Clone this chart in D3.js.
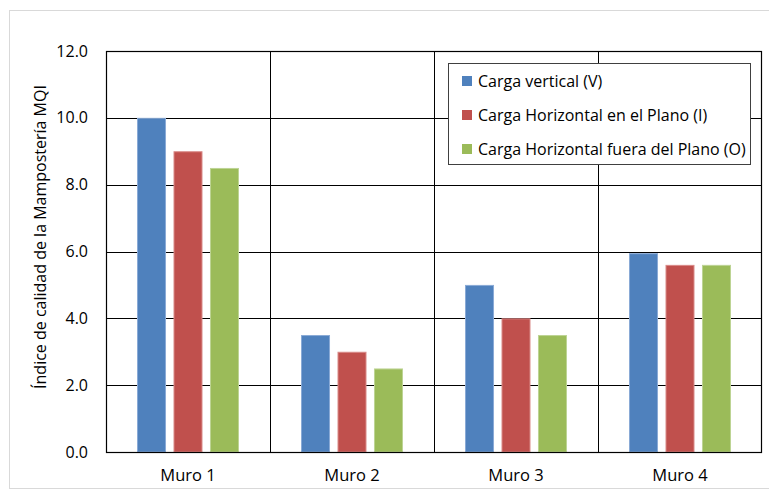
<!DOCTYPE html>
<html><head><meta charset="utf-8">
<script src="https://cdn.jsdelivr.net/npm/d3@7"></script>
<style>body{margin:0;background:#fff}svg{display:block}text{font-family:"Open Sans","Liberation Sans",sans-serif;fill:#000}</style>
</head><body><svg id="c" width="769" height="491"></svg>
<script>
const categories = ["Muro 1","Muro 2","Muro 3","Muro 4"];
const seriesNames = ["Carga vertical (V)","Carga Horizontal en el Plano (I)","Carga Horizontal fuera del Plano (O)"];
const cargaVertical = [10.0, 3.5, 5.0, 5.95];
const cargaHorizontalPlano = [9.0, 3.0, 4.0, 5.6];
const cargaHorizontalFuera = [8.5, 2.5, 3.5, 5.6];
const yTicks = [0,2,4,6,8,10,12];
const colors = ["#4F81BD","#C0504D","#9BBB59"];
const edgeColors = ["#8AAAD6","#D98A88","#BDD494"];
const series = [cargaVertical, cargaHorizontalPlano, cargaHorizontalFuera];

const svg = d3.select("#c");
svg.append("rect").attr("x",9.5).attr("y",10.5).attr("width",800).attr("height",478)
  .attr("fill","#fff").attr("stroke","#d9d9d9");
const L=106, R=762, T=51, B=452;
const x = d3.scaleBand().domain(categories).range([L,R]);
const xs = d3.scaleBand().domain(d3.range(3)).range([0,x.bandwidth()]).paddingInner(0.205).paddingOuter(0.85);
const y = d3.scaleLinear().domain([0,12]).range([B,T]);
const g = svg.append("g");
g.selectAll(".hg").data(yTicks).join("line").attr("x1",L).attr("x2",R)
  .attr("y1",d=>Math.round(y(d))+0.5).attr("y2",d=>Math.round(y(d))+0.5).attr("stroke","#000").attr("stroke-width",1);
g.selectAll(".vg").data(categories.slice(1)).join("line")
  .attr("x1",d=>Math.round(x(d))+0.5).attr("x2",d=>Math.round(x(d))+0.5).attr("y1",T).attr("y2",B).attr("stroke","#000");
series.forEach((s,i)=>{
  g.selectAll(".b"+i).data(s).join("rect")
    .attr("x",(d,j)=>x(categories[j])+xs(i)+0.5).attr("width",xs.bandwidth()-1)
    .attr("y",d=>y(d)+0.5).attr("height",d=>B-y(d)-0.5).attr("fill",colors[i])
    .attr("stroke",edgeColors[i]).attr("stroke-width",1);
});
g.append("rect").attr("x",L+0.5).attr("y",T+0.5).attr("width",R-L-1).attr("height",B-T)
  .attr("fill","none").attr("stroke","#000").attr("stroke-width",1.2);
const ya = svg.append("g").attr("transform",`translate(${L},0)`).call(d3.axisLeft(y).tickValues(yTicks).tickFormat(d3.format(".1f")).tickSize(0).tickPadding(18));
ya.select(".domain").remove();
ya.selectAll("text").style("font-size","16px").style("font-family",'"Open Sans",sans-serif').attr("fill","#000");
const xa = svg.append("g").attr("transform",`translate(0,${B})`).call(d3.axisBottom(x).tickSize(0).tickPadding(17));
xa.select(".domain").remove();
xa.selectAll("text").style("font-size","16.5px").style("font-family",'"Open Sans",sans-serif').attr("fill","#000");
svg.append("text").attr("transform","translate(46,237) rotate(-90)").attr("text-anchor","middle")
  .style("font-size","16px").text("Índice de calidad de la Mampostería MQI");
const lg = svg.append("g");
lg.append("rect").attr("x",448.5).attr("y",63.5).attr("width",302).attr("height",101).attr("fill","#fff").attr("stroke","#404040");
seriesNames.forEach((n,i)=>{
  const cy = 81 + i*34;
  lg.append("rect").attr("x",462).attr("y",cy-5).attr("width",10).attr("height",10).attr("fill",colors[i]);
  lg.append("text").attr("x",478).attr("y",cy).attr("dy","0.35em").style("font-size","16px").text(n);
});
</script></body></html>
